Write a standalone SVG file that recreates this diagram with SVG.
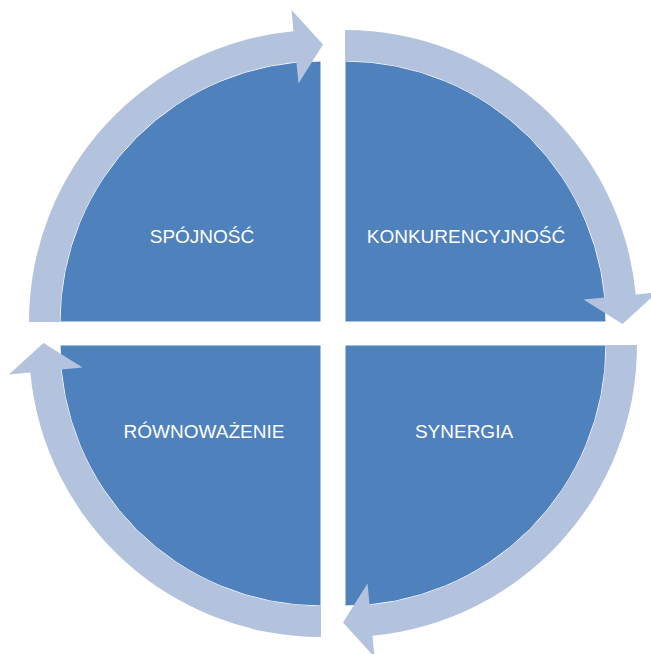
<svg xmlns="http://www.w3.org/2000/svg" width="651" height="654" viewBox="0 0 651 654">
<style>
.q{fill:#4F81BD;stroke:#ffffff;stroke-width:1}
.a{fill:#B3C2DD}
.t{fill:#ffffff;font-family:"Liberation Sans",Arial,sans-serif;font-size:19px;text-anchor:middle}
</style>
<defs>
<path id="arc" d="M -292 0 A 292 292 0 0 1 -27.5 -290.7 L -29.5 -312.1 L 2 -277.5 L -22.5 -238.4 L -24.6 -259.9 A 261 261 0 0 0 -261 0 Z"/>
</defs>
<rect width="651" height="654" fill="#ffffff"/>
<g id="node-spojnosc">
<path class="q" d="M 321 322 L 60 322 A 261 261 0 0 1 321 61 Z"/>
<text class="t" x="202" y="243">SPÓJNOŚĆ</text>
</g>
<g id="node-konkurencyjnosc">
<path class="q" d="M 345 322 L 345 61 A 261 261 0 0 1 606 322 Z"/>
<text class="t" x="466" y="243">KONKURENCYJNOŚĆ</text>
</g>
<g id="node-synergia">
<path class="q" d="M 345 345 L 606 345 A 261 261 0 0 1 345 606 Z"/>
<text class="t" x="464" y="438">SYNERGIA</text>
</g>
<g id="node-rownowazenie">
<path class="q" d="M 321 345 L 321 606 A 261 261 0 0 1 60 345 Z"/>
<text class="t" x="204" y="438">RÓWNOWAŻENIE</text>
</g>
<g id="connectors">
<use href="#arc" class="a" transform="translate(321 322)"/>
<use href="#arc" class="a" transform="translate(345 322) rotate(90)"/>
<use href="#arc" class="a" transform="translate(345 345) rotate(180)"/>
<use href="#arc" class="a" transform="translate(321 345) rotate(270)"/>
</g>
</svg>
